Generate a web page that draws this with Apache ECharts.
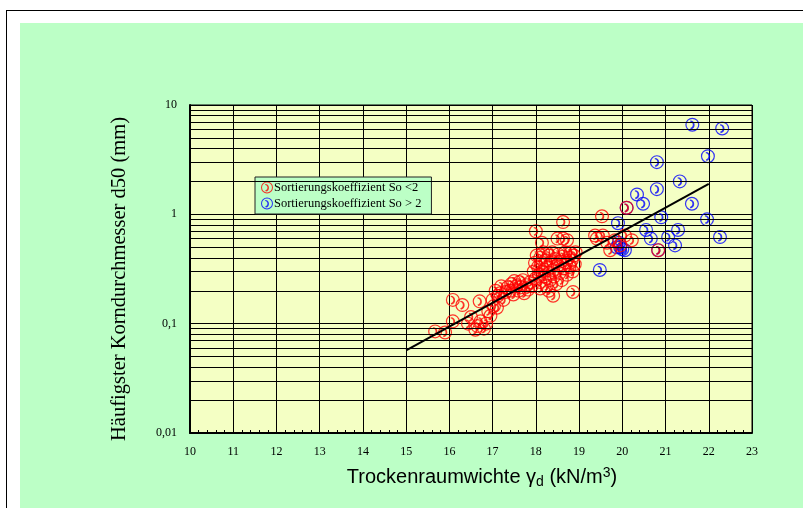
<!DOCTYPE html>
<html>
<head>
<meta charset="utf-8">
<script src="https://cdn.jsdelivr.net/npm/echarts@6/dist/echarts.min.js"></script>
<style>
  html, body { margin: 0; padding: 0; background: #ffffff; }
  #wrap { position: relative; width: 803px; height: 508px; overflow: hidden; background: #ffffff; }
  #frame { position: absolute; left: 6px; top: 10px; width: 820px; height: 520px; border: 1.5px solid #000; box-sizing: border-box; }
  #green { position: absolute; left: 20px; top: 23px; right: 0; bottom: 0; background: #BCFFC6; }
  #chart { position: absolute; left: 0; top: 0; width: 803px; height: 508px; }
</style>
</head>
<body>
<div id="wrap">
  <div id="frame"></div>
  <div id="green"></div>
  <div id="chart"></div>
</div>
<script>
// ---- data ----
const seriesNames = ['Sortierungskoeffizient So <2', 'Sortierungskoeffizient So > 2'];

// So < 2 (red): [dry unit weight kN/m3, d50 mm]
const redPoints = [
  [15.67,0.085],[15.9,0.083],[16.08,0.165],[16.08,0.105],[16.3,0.148],[16.43,0.1],[16.5,0.115],
  [16.6,0.088],[16.65,0.095],[16.7,0.16],[16.72,0.105],[16.8,0.09],[16.85,0.1],[16.9,0.13],
  [16.95,0.118],[17.0,0.165],[17.03,0.145],[17.07,0.2],[17.1,0.14],[17.12,0.18],[17.17,0.19],
  [17.2,0.22],[17.25,0.165],[17.3,0.195],[17.35,0.215],[17.4,0.2],[17.43,0.23],[17.48,0.185],
  [17.5,0.245],[17.55,0.22],[17.6,0.2],[17.62,0.24],[17.65,0.215],[17.7,0.25],[17.73,0.19],
  [17.78,0.225],[17.82,0.205],[17.87,0.24],[17.9,0.22],
  [17.95,0.3],[17.98,0.36],[18.0,0.26],[18.02,0.42],[18.05,0.33],[18.07,0.28],[18.1,0.4],
  [18.1,0.24],[18.12,0.35],[18.15,0.3],[18.17,0.45],[18.2,0.27],[18.22,0.38],[18.25,0.22],
  [18.27,0.33],[18.3,0.42],[18.3,0.29],[18.33,0.25],[18.35,0.36],[18.38,0.45],[18.4,0.31],
  [18.42,0.27],[18.45,0.39],[18.47,0.23],[18.5,0.34],[18.52,0.43],[18.55,0.29],[18.57,0.37],
  [18.6,0.25],[18.62,0.41],[18.65,0.32],[18.68,0.45],[18.7,0.36],[18.72,0.28],[18.75,0.4],
  [18.78,0.33],[18.8,0.44],[18.83,0.38],[18.85,0.3],[18.88,0.42],[18.9,0.35],[18.92,0.45],
  [18.0,0.7],[18.14,0.55],[18.5,0.6],[18.63,0.85],[18.72,0.58],[18.63,0.6],[18.86,0.195],
  [18.4,0.18],[18.3,0.2],[18.1,0.21],
  [19.37,0.64],[19.53,0.96],[19.41,0.6],[19.55,0.64],[19.72,0.47],[19.83,0.58],[19.95,0.52],
  [20.06,0.64],[20.22,0.58],[20.1,1.15],[20.83,0.47],[19.65,0.55]
];

// So > 2 (blue)
const bluePoints = [
  [21.62,6.6],[22.31,6.1],[21.98,3.4],[20.8,3.0],[21.33,2.0],[20.34,1.52],[20.8,1.7],
  [20.48,1.25],[21.61,1.25],[20.9,0.94],[21.96,0.9],[21.29,0.72],[20.55,0.72],[20.66,0.6],
  [21.06,0.62],[21.22,0.52],[22.26,0.62],[19.9,0.83],[19.87,0.5],[19.95,0.5],[20.06,0.47],
  [19.92,0.55],[20.0,0.48],[19.48,0.31],[20.1,1.15],[20.83,0.47]
];

// regression line end points
const trendLine = [[15,0.057],[22,1.9]];

// axis ranges / ticks
const xMin = 10, xMax = 23, xStep = 1;
const yMin = 0.01, yMax = 10;
const yMinorGrid = [0.02,0.03,0.04,0.05,0.06,0.07,0.08,0.09,
                    0.2,0.3,0.4,0.5,0.6,0.7,0.8,0.9,
                    2,3,4,5,6,7,8,9];

const xTitle = 'Trockenraumwichte γ{sub|d} (kN/m{sup|3})';
const yTitle = 'Häufigster Korndurchmesser d50 (mm)';

// ---- chart ----
const SERIF = '"Liberation Serif", "Times New Roman", serif';
const SANS = '"Liberation Sans", Arial, sans-serif';
const markerPath = 'path://M10,0 A10,10 0 1,1 10,20 A10,10 0 1,1 10,0 Z ' +
  'M10,1.7 A8.3,8.3 0 1,0 10,18.3 A8.3,8.3 0 1,0 10,1.7 Z ' +
  'M7,4 C15,4 15.5,15.5 8,16.8 L7,14.6 C12,13.5 12,6.5 7,5.8 Z';

const chart = echarts.init(document.getElementById('chart'), null, {renderer: 'canvas'});
chart.setOption({
  backgroundColor: 'transparent',
  animation: false,
  grid: {
    left: 190, right: 51, top: 105, bottom: 75,
    show: true, backgroundColor: '#F4FFC4', borderColor: '#000', borderWidth: 1
  },
  legend: {
    show: true,
    orient: 'vertical',
    left: 255, top: 177,
    data: seriesNames,
    itemWidth: 12, itemHeight: 12, itemGap: 3,
    padding: [4, 10, 4, 6],
    backgroundColor: '#BCFFC6',
    borderColor: '#222', borderWidth: 1,
    textStyle: { fontFamily: SERIF, fontSize: 12.5, color: '#000', padding: [0,0,0,-4] }
  },
  xAxis: {
    type: 'value', min: xMin, max: xMax, interval: xStep,
    axisLine: { show: true, lineStyle: { color: '#000', width: 2 } },
    axisTick: { show: true, inside: true, length: 4, lineStyle: { color: '#000' } },
    minorTick: { show: true, splitNumber: 5, length: 3, lineStyle: { color: '#000' } },
    splitLine: { show: true, lineStyle: { color: '#000', width: 1 } },
    axisLabel: { fontFamily: SERIF, fontSize: 12, color: '#000', margin: 13 },
    name: xTitle,
    nameLocation: 'middle', nameGap: 33,
    nameTextStyle: {
      fontFamily: SANS, fontSize: 20, color: '#000', padding: [0,0,0,22],
      rich: {
        sub: { fontFamily: SANS, fontSize: 14, color: '#000', verticalAlign: 'bottom', padding: [9,0,0,0] },
        sup: { fontFamily: SANS, fontSize: 14, color: '#000', verticalAlign: 'top', padding: [0,0,9,0] }
      }
    }
  },
  yAxis: {
    type: 'log', logBase: 10, min: yMin, max: yMax,
    axisLine: { show: true, lineStyle: { color: '#000', width: 2 } },
    axisTick: { show: false },
    splitLine: { show: true, lineStyle: { color: '#000', width: 1 } },
    axisLabel: {
      fontFamily: SERIF, fontSize: 12, color: '#000', margin: 13,
      formatter: v => String(+v.toPrecision(6)).replace('.', ',')
    },
    name: yTitle,
    nameLocation: 'middle', nameRotate: 90, nameGap: 60,
    nameTextStyle: { fontFamily: SERIF, fontSize: 20.5, color: '#000', padding: [0,20,0,0] }
  },
  series: [
    {
      name: 'grid', type: 'scatter', data: [], z: 1, silent: true,
      markLine: {
        silent: true, symbol: 'none', animation: false,
        label: { show: false },
        lineStyle: { color: '#000', width: 1, type: 'solid' },
        data: yMinorGrid.map(v => ({ yAxis: v }))
      }
    },
    {
      name: seriesNames[1], type: 'scatter', data: bluePoints, z: 3,
      symbol: markerPath, symbolSize: 14,
      itemStyle: { color: '#0000FF', opacity: 0.8 }
    },
    {
      name: seriesNames[0], type: 'scatter', data: redPoints, z: 4,
      symbol: markerPath, symbolSize: 14,
      itemStyle: { color: '#FF0000', opacity: 0.8 }
    },
    {
      name: 'trend', type: 'line', data: trendLine, z: 6,
      symbol: 'none', silent: true,
      lineStyle: { color: '#000', width: 2 }
    }
  ]
});
</script>
</body>
</html>
